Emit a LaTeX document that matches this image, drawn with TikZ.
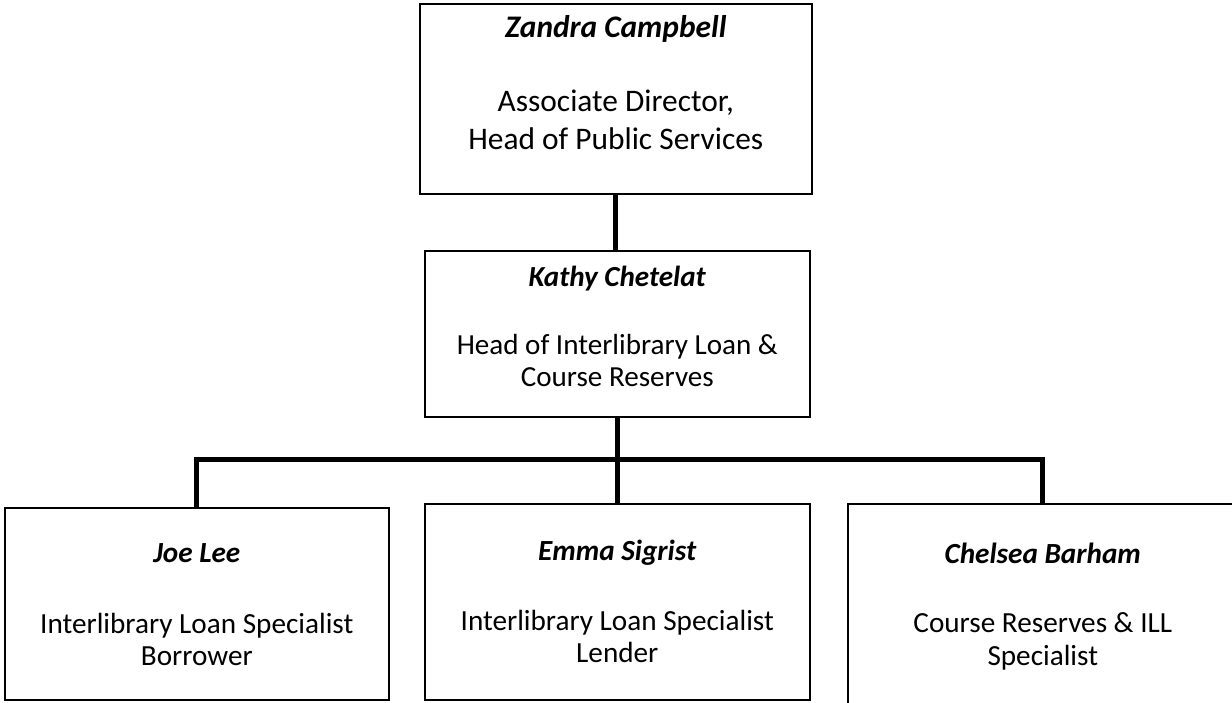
\documentclass[tikz,border=0pt]{standalone}
\usepackage{fontspec}
\setmainfont{Carlito}
\usepackage{tikz}

\begin{document}
\begin{tikzpicture}[x=1pt,y=-1pt,
   card/.style={draw, line width=1.6pt, inner sep=0pt, align=flush center, anchor=north west},
   link/.style={line width=5pt, line join=miter}]
   \useasboundingbox (0,0) rectangle (1232,703);
   \clip (0,0) rectangle (1232,703);

   \node[card, text width=392pt, text height=34pt, text depth=156pt,
         font=\fontsize{31.4}{38}\selectfont] (zandra) at (419,3)
      {\textbf{\textit{Zandra Campbell}}\\[36pt] Associate Director,\\ Head of Public Services};
   \node[card, text width=385pt, text height=36pt, text depth=130pt,
         font=\fontsize{29.1}{32}\selectfont] (kathy) at (424,250)
      {\textbf{\textit{Kathy Chetelat}}\\[36pt] Head of Interlibrary Loan \&\\ Course Reserves};

   \node[card, text width=384pt, text height=55pt, text depth=137pt,
         font=\fontsize{29.2}{32}\selectfont] (joe) at (4,507)
      {\textbf{\textit{Joe Lee}}\\[39pt] Interlibrary Loan Specialist\\ Borrower};
   \node[card, text width=385pt, text height=57pt, text depth=139pt,
         font=\fontsize{29.2}{32}\selectfont] (emma) at (424,503)
      {\textbf{\textit{Emma Sigrist}}\\[38pt] Interlibrary Loan Specialist\\ Lender};
   \node[card, text width=390pt, text height=60pt, text depth=190pt,
         font=\fontsize{29.2}{33}\selectfont] (chelsea) at (847,503)
      {\textbf{\textit{Chelsea Barham}}\\[36pt] Course Reserves \& ILL\\ Specialist};

   \coordinate (bus) at (0,459);
   \draw[link] (zandra.south) -- (zandra.south |- kathy.north);
   \draw[link] (kathy.south) -- (emma.north);
   \draw[link] (joe.north) -- (joe.north |- bus) -- (chelsea.north |- bus) -- (chelsea.north);
\end{tikzpicture}
\end{document}
